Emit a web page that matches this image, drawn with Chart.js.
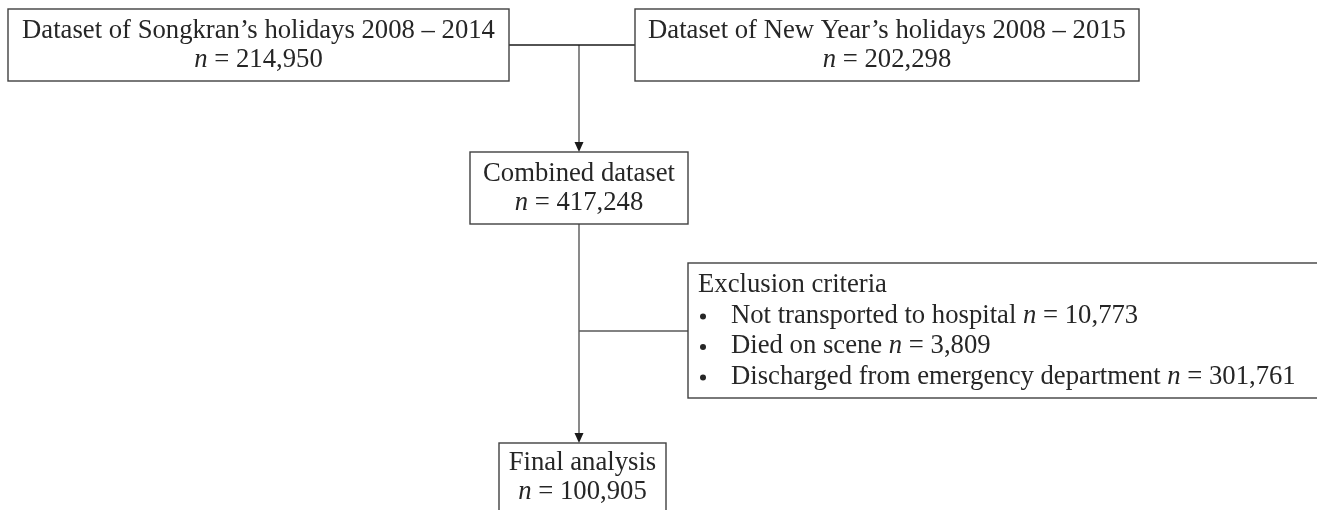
<!DOCTYPE html>
<html lang="en">
<head>
<meta charset="UTF-8">
<title>Study flow diagram</title>
<script src="https://cdn.jsdelivr.net/npm/chart.js"></script>
<style>
    body {
        margin: 0;
        padding: 0;
        background-color: #ffffff;
    }
    .chart-container {
        position: relative;
        width: 1317px;
        height: 510px;
    }
</style>
</head>
<body>
<div class="chart-container">
    <canvas id="flowChart"></canvas>
</div>
<script>
// data
const boxTitles = [
    "Dataset of Songkran\u2019s holidays 2008 \u2013 2014",
    "Dataset of New Year\u2019s holidays 2008 \u2013 2015",
    "Combined dataset",
    "Final analysis"
];
const boxCounts = [214950, 202298, 417248, 100905];
const exclusionTitle = "Exclusion criteria";
const exclusionReasons = [
    "Not transported to hospital",
    "Died on scene",
    "Discharged from emergency department"
];
const exclusionCounts = [10773, 3809, 301761];

// layout (diagram units = pixels of the 1317x510 page)
const boxLayout = [
    { x0: 8, y0: 9, x1: 509, y1: 81, line1: 31, line2: 60 },
    { x0: 635, y0: 9, x1: 1139, y1: 81, line1: 31, line2: 60 },
    { x0: 470, y0: 152, x1: 688, y1: 224, line1: 174, line2: 203 },
    { x0: 499, y0: 443, x1: 666, y1: 530, line1: 463, line2: 492 }
];
const exclusionBox = { x0: 688, y0: 263, x1: 1330, y1: 398, textX: 698, bulletX: 703, itemX: 731, top: 285, step: 30.5 };
const connectors = [
    { pts: [[509, 45], [635, 45]], color: '#1a1a1a' },
    { pts: [[579, 45], [579, 146]], color: '#595959' },
    { pts: [[579, 224], [579, 437]], color: '#595959' },
    { pts: [[579, 331], [688, 331]], color: '#595959' }
];
const arrowTips = [[579, 152], [579, 443]];

const textColor = '#262626';
const borderColor = '#404040';
const fontSize = 26.7;
const fontFamily = '"Liberation Serif", "Times New Roman", serif';

function fmt(v) {
    return v.toLocaleString('en-US');
}

// writes "<prefix>n = value" with the n in italics
function drawCount(ctx, prefix, value, x, y, align) {
    const reg = fontSize + 'px ' + fontFamily;
    const ital = 'italic ' + fontSize + 'px ' + fontFamily;
    const rest = ' = ' + fmt(value);
    ctx.font = reg;
    const wPre = ctx.measureText(prefix).width;
    const wRest = ctx.measureText(rest).width;
    ctx.font = ital;
    const wN = ctx.measureText('n').width;
    let start = x;
    if (align === 'center') start = x - (wPre + wN + wRest) / 2;
    ctx.textAlign = 'left';
    ctx.font = reg;
    ctx.fillText(prefix, start, y);
    ctx.font = ital;
    ctx.fillText('n', start + wPre, y);
    ctx.font = reg;
    ctx.fillText(rest, start + wPre + wN, y);
}

const flowPlugin = {
    id: 'flowBoxes',
    afterDatasetsDraw(chart) {
        const ctx = chart.ctx;
        const px = v => chart.scales.x.getPixelForValue(v);
        const py = v => chart.scales.y.getPixelForValue(v);
        ctx.save();

        // arrow heads
        ctx.fillStyle = '#1a1a1a';
        arrowTips.forEach(t => {
            const x = px(t[0]), y = py(t[1]);
            ctx.beginPath();
            ctx.moveTo(x, y);
            ctx.lineTo(x - 4.5, y - 10);
            ctx.lineTo(x + 4.5, y - 10);
            ctx.closePath();
            ctx.fill();
        });

        ctx.strokeStyle = borderColor;
        ctx.lineWidth = 1.4;
        ctx.textBaseline = 'middle';

        boxLayout.forEach((b, i) => {
            const x0 = px(b.x0), x1 = px(b.x1), y0 = py(b.y0), y1 = py(b.y1);
            ctx.strokeRect(x0, y0, x1 - x0, y1 - y0);
            const cx = (x0 + x1) / 2;
            ctx.fillStyle = textColor;
            ctx.font = fontSize + 'px ' + fontFamily;
            ctx.textAlign = 'center';
            ctx.fillText(boxTitles[i], cx, py(b.line1));
            drawCount(ctx, '', boxCounts[i], cx, py(b.line2), 'center');
        });

        // exclusion box
        const e = exclusionBox;
        ctx.strokeRect(px(e.x0), py(e.y0), px(e.x1) - px(e.x0), py(e.y1) - py(e.y0));
        ctx.fillStyle = textColor;
        ctx.font = fontSize + 'px ' + fontFamily;
        ctx.textAlign = 'left';
        ctx.fillText(exclusionTitle, px(e.textX), py(e.top));
        exclusionReasons.forEach((r, i) => {
            const y = py(e.top + e.step * (i + 1));
            ctx.beginPath();
            ctx.arc(px(e.bulletX), y + 1, 3, 0, Math.PI * 2);
            ctx.fill();
            drawCount(ctx, r + ' ', exclusionCounts[i], px(e.itemX), y, 'left');
        });

        ctx.restore();
    }
};

const datasets = connectors.map(c => ({
    data: c.pts.map(p => ({ x: p[0], y: p[1] })),
    showLine: true,
    borderColor: c.color,
    borderWidth: 1.4,
    pointRadius: 0,
    fill: false
}));

new Chart(document.getElementById('flowChart'), {
    type: 'scatter',
    data: { datasets: datasets },
    options: {
        responsive: true,
        maintainAspectRatio: false,
        animation: false,
        layout: { padding: 0 },
        plugins: {
            legend: { display: false },
            tooltip: { enabled: false }
        },
        scales: {
            x: { type: 'linear', min: 0, max: 1317, display: false },
            y: { type: 'linear', min: 0, max: 510, reverse: true, display: false }
        }
    },
    plugins: [flowPlugin]
});
</script>
</body>
</html>
